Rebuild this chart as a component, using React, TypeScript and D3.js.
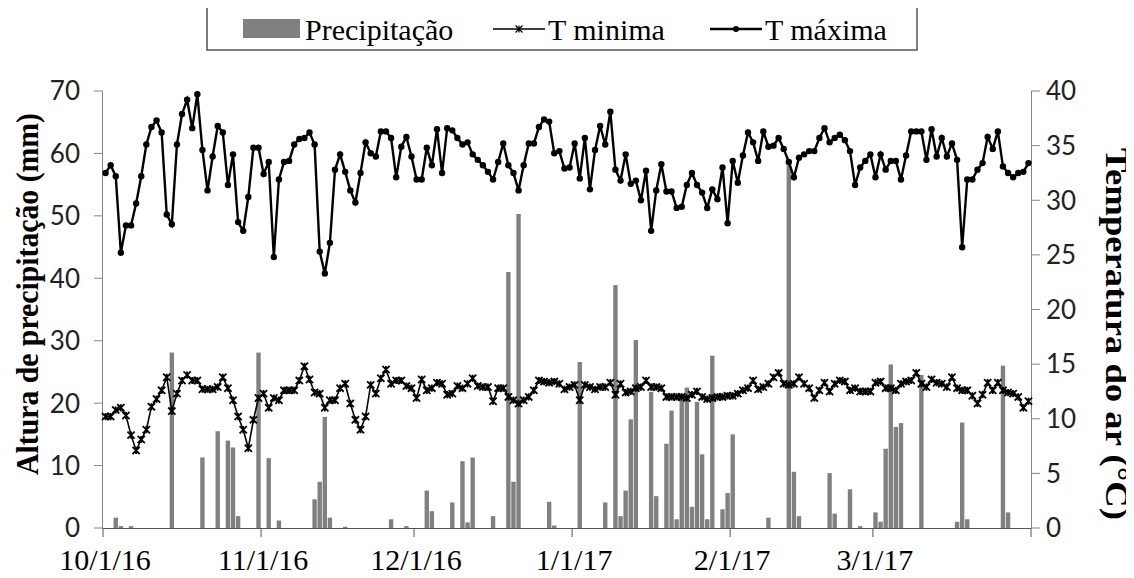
import React from 'react';
import * as d3 from 'd3';

// daily maximum temperature (°C), one array per month
const tmaxOct = [32.5, 33.2, 32.2, 25.2, 27.7, 27.7, 29.7, 32.2, 35.1, 36.7, 37.3, 36.2, 28.7, 27.8, 35.1, 37.9, 39.2, 36.6, 39.7, 34.6, 30.9, 34.0, 36.8, 36.2, 31.4, 34.2, 28.0, 27.2, 30.3, 34.8, 34.8];
const tmaxNov = [32.4, 33.5, 24.8, 31.9, 33.5, 33.6, 35.1, 35.6, 35.7, 36.2, 35.1, 25.3, 23.3, 26.1, 32.8, 34.2, 32.6, 30.9, 29.8, 32.5, 35.3, 34.3, 34.0, 36.3, 36.3, 35.7, 32.1, 34.9, 35.8, 34.0];
const tmaxDec = [31.9, 31.9, 34.8, 33.2, 36.5, 32.5, 36.6, 36.4, 35.7, 35.1, 35.3, 34.2, 33.7, 33.2, 32.6, 31.9, 33.5, 35.2, 33.2, 32.5, 30.9, 33.2, 35.2, 35.2, 36.7, 37.4, 37.2, 34.3, 34.5, 32.9, 33.0];
const tmaxJan = [35.2, 32.0, 35.7, 31.0, 34.6, 36.8, 35.1, 38.1, 32.8, 31.8, 34.2, 31.5, 31.8, 30.0, 32.7, 27.2, 30.9, 33.3, 30.8, 30.8, 29.3, 29.4, 31.4, 32.5, 31.4, 30.7, 29.3, 31.0, 30.1, 33.0, 27.9];
const tmaxFeb = [33.6, 31.6, 34.1, 36.2, 35.3, 33.6, 36.3, 34.9, 35.0, 35.7, 34.7, 33.5, 32.1, 33.9, 34.2, 34.5, 34.5, 35.7, 36.6, 35.3, 35.7, 36.0, 35.5, 34.5, 31.4, 33.0, 33.6, 34.2];
const tmaxMar = [32.1, 34.2, 32.8, 33.6, 33.6, 31.9, 34.1, 36.3, 36.3, 36.3, 33.7, 36.5, 34.0, 35.7, 34.0, 35.2, 33.7, 25.7, 31.9, 31.9, 32.8, 33.4, 35.8, 34.7, 36.3, 33.1, 32.5, 32.1, 32.5, 32.6, 33.4];

// daily minimum temperature (°C)
const tminOct = [10.2, 10.2, 10.8, 11.0, 10.3, 8.5, 7.1, 8.1, 9.0, 11.1, 11.8, 12.6, 13.8, 10.7, 12.3, 13.5, 14.0, 13.5, 13.5, 12.7, 12.7, 12.7, 12.9, 13.8, 12.8, 11.7, 10.2, 9.0, 7.3, 9.9, 11.9];
const tminNov = [12.3, 11.0, 11.9, 11.7, 12.6, 12.6, 12.6, 13.5, 14.8, 13.6, 12.4, 12.3, 11.0, 11.7, 11.7, 12.8, 13.2, 11.4, 9.9, 9.0, 10.2, 13.1, 12.3, 13.7, 14.5, 13.2, 13.5, 13.5, 13.0, 12.8];
const tminDec = [11.9, 13.6, 12.6, 12.8, 13.3, 13.2, 12.2, 12.3, 13.0, 12.8, 13.2, 13.7, 13.0, 12.9, 12.9, 11.6, 12.8, 12.8, 12.0, 11.7, 11.4, 11.7, 12.0, 12.6, 13.5, 13.4, 13.3, 13.4, 13.2, 12.7, 12.9];
const tminJan = [13.1, 11.7, 13.1, 12.9, 12.7, 12.9, 12.9, 13.3, 12.2, 13.2, 12.4, 12.5, 12.8, 12.9, 13.5, 12.9, 12.9, 12.8, 12.0, 12.0, 12.0, 12.0, 11.9, 12.2, 12.5, 12.0, 11.8, 11.9, 12.0, 12.0, 12.1];
const tminFeb = [12.1, 12.3, 12.6, 12.8, 13.5, 12.7, 12.9, 13.2, 13.8, 14.2, 13.2, 13.1, 13.2, 13.8, 13.2, 12.8, 11.9, 12.6, 13.3, 12.5, 13.2, 13.5, 13.4, 12.6, 12.8, 12.5, 12.5, 12.5];
const tminMar = [13.3, 13.4, 12.8, 12.8, 12.6, 13.2, 13.4, 13.5, 14.2, 13.2, 12.9, 13.6, 13.3, 13.2, 12.9, 13.8, 12.8, 12.6, 12.6, 12.1, 11.4, 12.2, 13.3, 12.6, 13.3, 12.6, 12.4, 12.3, 12.0, 11.0, 11.6];

// rainy days and precipitation (mm); every other day is 0
const rainDates = [
  '2016-10-03', '2016-10-04', '2016-10-06', '2016-10-14', '2016-10-20', '2016-10-23', '2016-10-25', '2016-10-26', '2016-10-27', '2016-10-31',
  '2016-11-02', '2016-11-04', '2016-11-11', '2016-11-12', '2016-11-13', '2016-11-14', '2016-11-17', '2016-11-26', '2016-11-29',
  '2016-12-03', '2016-12-04', '2016-12-08', '2016-12-10', '2016-12-11', '2016-12-12', '2016-12-16', '2016-12-19', '2016-12-20', '2016-12-21', '2016-12-27', '2016-12-28',
  '2017-01-02', '2017-01-07', '2017-01-09', '2017-01-10', '2017-01-11', '2017-01-12', '2017-01-13', '2017-01-16', '2017-01-17', '2017-01-19', '2017-01-20',
  '2017-01-21', '2017-01-22', '2017-01-23', '2017-01-24', '2017-01-25', '2017-01-26', '2017-01-27', '2017-01-28', '2017-01-30', '2017-01-31',
  '2017-02-01', '2017-02-08', '2017-02-12', '2017-02-13', '2017-02-14', '2017-02-20', '2017-02-21', '2017-02-24', '2017-02-26',
  '2017-03-01', '2017-03-02', '2017-03-03', '2017-03-04', '2017-03-05', '2017-03-06', '2017-03-10', '2017-03-17', '2017-03-18', '2017-03-19', '2017-03-26', '2017-03-27',
];
const rainMm = [
  1.65, 0.3, 0.3, 28.1, 11.3, 15.5, 14.0, 12.9, 1.9, 28.1,
  11.2, 1.2, 4.6, 7.4, 17.8, 1.65, 0.2, 1.4, 0.3,
  6.0, 2.7, 4.1, 10.7, 0.9, 11.3, 1.9, 41.0, 7.4, 50.3, 4.2, 0.4,
  26.6, 4.1, 38.9, 1.9, 6.0, 17.4, 30.1, 21.8, 5.1, 13.5, 18.8,
  1.4, 20.5, 22.5, 3.4, 20.2, 11.8, 1.4, 27.6, 3.0, 5.6,
  15.0, 1.65, 58.1, 9.0, 1.9, 8.8, 2.3, 6.2, 0.3,
  2.5, 1.0, 12.7, 26.2, 16.2, 16.8, 24.5, 1.0, 16.9, 1.4, 26.0, 2.5,
];

const leftTicks = [0, 10, 20, 30, 40, 50, 60, 70];
const rightTicks = [0, 5, 10, 15, 20, 25, 30, 35, 40];
const monthLabels = ['10/1/16', '11/1/16', '12/1/16', '1/1/17', '2/1/17', '3/1/17'];

const tmax = [...tmaxOct, ...tmaxNov, ...tmaxDec, ...tmaxJan, ...tmaxFeb, ...tmaxMar];
const tmin = [...tminOct, ...tminNov, ...tminDec, ...tminJan, ...tminFeb, ...tminMar];

const start = new Date(Date.UTC(2016, 9, 1));
const end = new Date(Date.UTC(2017, 3, 1));
const days = d3.utcDay.range(start, end);
const months = d3.utcMonth.range(start, d3.utcDay.offset(end, 1));

const serif = '"Liberation Serif", "Times New Roman", serif';
const sans = 'Lato, "Open Sans", sans-serif';

const x = d3.scaleUtc().domain([start, end]).range([103, 1031]);
const yL = d3.scaleLinear().domain([0, 70]).range([528, 91]);
const yR = d3.scaleLinear().domain([0, 40]).range([528, 91]);
const mid = (d: Date) => x(d3.utcHour.offset(d, 12));
const dayW = x(days[1]) - x(days[0]);

const star = (s: number) => `M${-s},${-s}L${s},${s}M${-s},${s}L${s},${-s}M0,${-s}L0,${s}`;

const App = () => {
  const rain = rainDates.map((s, i) => ({ d: d3.utcParse('%Y-%m-%d')(s) as Date, v: rainMm[i] }));
  const minPts = days.map((d, i) => [mid(d), yR(tmin[i])] as [number, number]);
  const maxPts = days.map((d, i) => [mid(d), yR(tmax[i])] as [number, number]);
  const line = d3.line();
  const barW = dayW * 0.86;

  return (
    <svg width={1134} height={578} style={{ display: 'block', margin: '-8px', background: '#fff' }}>
      {/* legend */}
      <rect x={207} y={7} width={710} height={43} fill="#fff" stroke="#3a3a3a" strokeWidth={1.3} />
      <rect x={243} y={19} width={57} height={19} fill="#808080" />
      <text x={305} y={40} fontFamily={serif} fontSize={30}>Precipitação</text>
      <line x1={493} x2={545} y1={29} y2={29} stroke="#000" strokeWidth={1.6} />
      <path d={star(3.5)} transform="translate(519,29)" stroke="#000" strokeWidth={1.2} fill="none" />
      <text x={548} y={40} fontFamily={serif} fontSize={30}>T minima</text>
      <line x1={710} x2={762} y1={29} y2={29} stroke="#000" strokeWidth={2.4} />
      <circle cx={736} cy={29} r={3} fill="#000" />
      <text x={765} y={40} fontFamily={serif} fontSize={30}>T máxima</text>

      {/* axes */}
      <line x1={102.5} x2={102.5} y1={91} y2={528} stroke="#868686" />
      <line x1={1031.5} x2={1031.5} y1={91} y2={528} stroke="#868686" />
      {leftTicks.map(t => (
        <g key={'l' + t}>
          <line x1={94} x2={103} y1={yL(t)} y2={yL(t)} stroke="#868686" />
          <text x={80} y={yL(t)} dy="0.36em" textAnchor="end" fontFamily={sans} fontSize={26} fill="#222">{t}</text>
        </g>
      ))}
      {rightTicks.map(t => (
        <g key={'r' + t}>
          <line x1={1031} x2={1040} y1={yR(t)} y2={yR(t)} stroke="#868686" />
          <text x={1046} y={yR(t)} dy="0.36em" fontFamily={sans} fontSize={26} fill="#222">{t}</text>
        </g>
      ))}

      {/* precipitation bars */}
      {rain.map(r => (
        <rect key={r.d.toISOString()} x={mid(r.d) - barW / 2} width={barW} y={yL(r.v)} height={yL(0) - yL(r.v)} fill="#808080" />
      ))}

      <line x1={103} x2={1031} y1={528.5} y2={528.5} stroke="#555" strokeWidth={1.2} />
      {months.map(m => (
        <line key={m.toISOString()} x1={x(m)} x2={x(m)} y1={528} y2={537} stroke="#555" />
      ))}
      {monthLabels.map((l, i) => (
        <text key={l} x={x(months[i]) + 2} y={570} textAnchor="middle" fontFamily={serif} fontSize={30}>{l}</text>
      ))}

      {/* T minima */}
      <path d={line(minPts) as string} fill="none" stroke="#000" strokeWidth={1.6} />
      {minPts.map((p, i) => (
        <path key={'n' + i} d={star(3.6)} transform={`translate(${p[0]},${p[1]})`} stroke="#000" strokeWidth={1.8} fill="none" />
      ))}

      {/* T maxima */}
      <path d={line(maxPts) as string} fill="none" stroke="#000" strokeWidth={2.4} />
      {maxPts.map((p, i) => (
        <circle key={'x' + i} cx={p[0]} cy={p[1]} r={3.2} fill="#000" />
      ))}

      {/* axis titles */}
      <text transform="translate(38,294) rotate(-90)" textAnchor="middle" fontFamily={serif} fontWeight="bold" fontSize={32}
        textLength={362} lengthAdjust="spacingAndGlyphs">Altura de precipitação (mm)</text>
      <text transform="translate(1106,334) rotate(90)" textAnchor="middle" fontFamily={serif} fontWeight="bold" fontSize={32}
        textLength={372} lengthAdjust="spacingAndGlyphs">Temperatura do ar (°C)</text>
    </svg>
  );
};

export default App;
